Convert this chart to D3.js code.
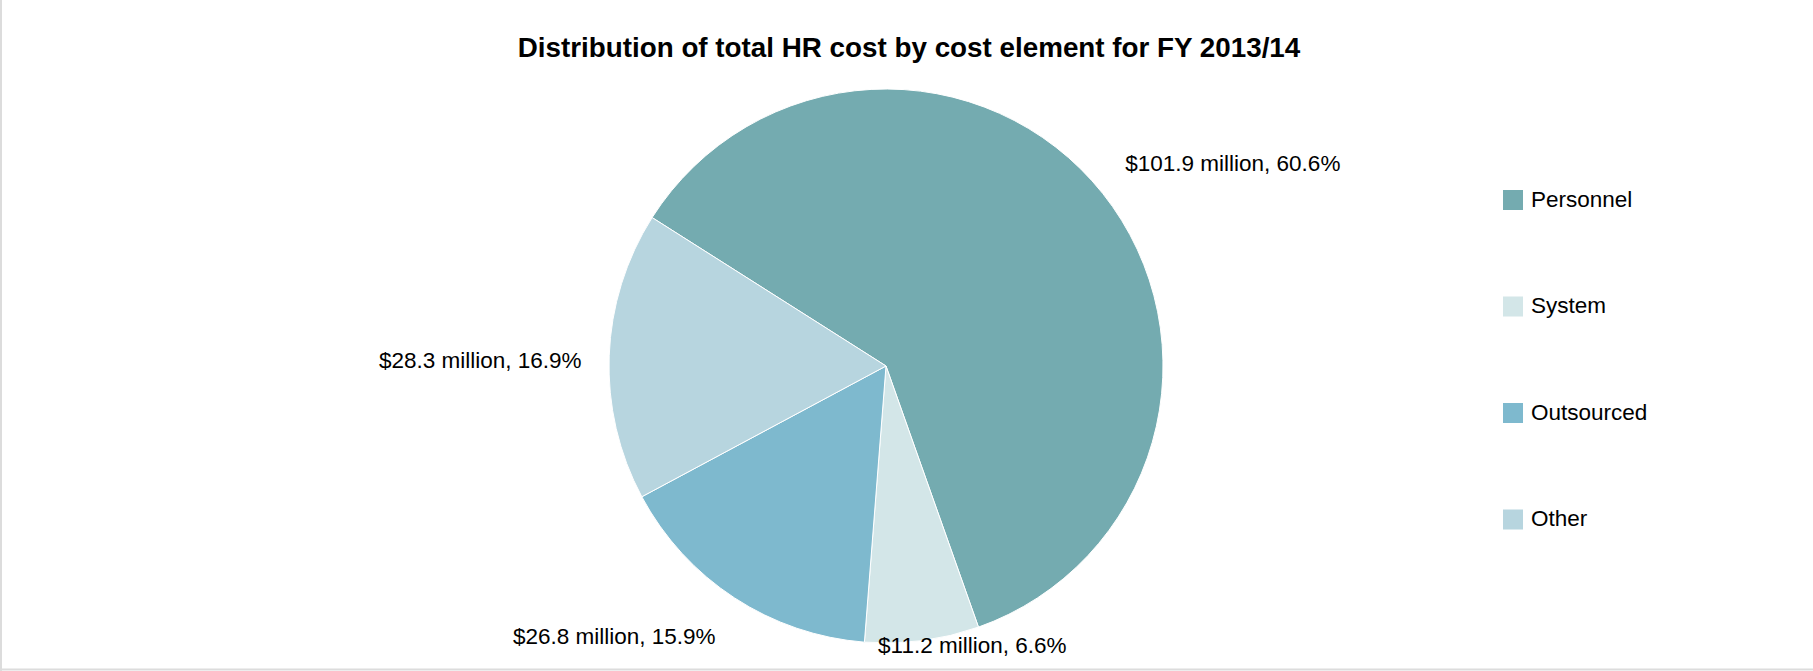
<!DOCTYPE html>
<html>
<head>
<meta charset="utf-8">
<script src="https://cdn.jsdelivr.net/npm/d3@7"></script>
<style>
  html, body { margin: 0; padding: 0; background: #fff; }
  svg { display: block; font-family: "Liberation Sans", Arial, sans-serif; }
</style>
</head>
<body>
<svg id="chart" width="1813" height="671"></svg>
<script>
// HR cost elements, FY 2013/14 (USD millions)
const categories = ["Personnel", "System", "Outsourced", "Other"];
const costMillions = [101.9, 11.2, 26.8, 28.3];
const percentLabels = ["60.6%", "6.6%", "15.9%", "16.9%"];
const sliceColors = ["#74abb0", "#d3e6e8", "#7eb9ce", "#b7d5df"];

// fine placement of the outside labels relative to their slice direction
const labelNudge = [[34, 47], [34, -117], [-53, -64], [-6, 9]];

const W = 1813, H = 671;
const cx = 886, cy = 366, radius = 277, labelRadius = 400;
const startDeg = -57.6;

const svg = d3.select("#chart");

// frame edges
svg.append("line").attr("x1", 1).attr("y1", 0).attr("x2", 1).attr("y2", H)
  .attr("stroke", "#dcdcdc").attr("stroke-width", 2);
svg.append("line").attr("x1", 0).attr("y1", H - 1.5).attr("x2", W).attr("y2", H - 1.5)
  .attr("stroke", "#dcdcdc").attr("stroke-width", 2);

svg.append("text")
  .attr("x", 909).attr("y", 47)
  .attr("text-anchor", "middle").attr("dominant-baseline", "central")
  .attr("font-size", "27.8px").attr("font-weight", "bold").attr("fill", "#000")
  .text("Distribution of total HR cost by cost element for FY 2013/14");

const rows = categories.map((c, i) => ({ name: c, value: costMillions[i], pct: percentLabels[i], i }));

const start = startDeg * Math.PI / 180;
const pie = d3.pie().value(d => d.value).sort(null)
  .startAngle(start).endAngle(start + 2 * Math.PI);
const arcs = pie(rows);
const arc = d3.arc().innerRadius(0).outerRadius(radius);

const g = svg.append("g").attr("transform", `translate(${cx},${cy})`);
g.selectAll("path.slice").data(arcs).enter().append("path")
  .attr("class", "slice")
  .attr("d", arc)
  .attr("fill", d => sliceColors[d.data.i])
  .attr("stroke", "#fff").attr("stroke-width", 1);

g.selectAll("text.lbl").data(arcs).enter().append("text")
  .attr("class", "lbl")
  .attr("transform", d => {
    const a = (d.startAngle + d.endAngle) / 2;
    const [px, py] = d3.pointRadial(a, labelRadius);
    const [nx, ny] = labelNudge[d.data.i];
    return `translate(${px + nx},${py + ny})`;
  })
  .attr("text-anchor", "middle").attr("dominant-baseline", "central")
  .attr("font-size", "22.5px").attr("fill", "#000")
  .text(d => `$${d3.format(".1f")(d.data.value)} million, ${d.data.pct}`);

// legend
const lg = svg.append("g").attr("transform", "translate(1503,199)");
const item = lg.selectAll("g").data(rows).enter().append("g")
  .attr("transform", (d, i) => `translate(0,${i * 106.5})`);
item.append("rect").attr("x", 0).attr("y", -9).attr("width", 20).attr("height", 20)
  .attr("fill", d => sliceColors[d.i]);
item.append("text").attr("x", 28).attr("y", 0)
  .attr("dominant-baseline", "central").attr("font-size", "22.5px").attr("fill", "#000")
  .text(d => d.name);
</script>
</body>
</html>
